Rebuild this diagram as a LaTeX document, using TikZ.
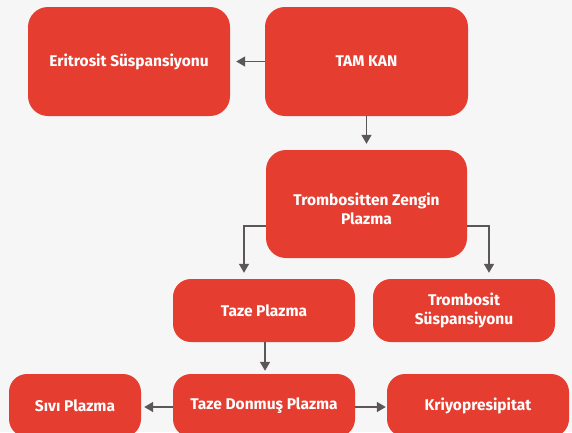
\documentclass[tikz,border=0pt]{standalone}
\usepackage{fontspec}
\setmainfont{Fira Sans}
\usetikzlibrary{arrows.meta}
\definecolor{boxred}{HTML}{E53D30}
\definecolor{bgcol}{HTML}{F6F6F6}
\definecolor{arrcol}{HTML}{5B5758}
\tikzset{
  rbox/.style={fill=boxred, draw=none, rounded corners=18pt, text=white,
    font=\fontsize{15.5}{19}\selectfont\bfseries, align=center, inner sep=0pt},
  btext/.style={text=white, font=\fontsize{15.5}{19}\selectfont\bfseries, align=center, inner sep=0pt},
  conn/.style={draw=arrcol, line width=1.5pt, -{Triangle[width=10pt,length=9pt]}}
}
\begin{document}
\begin{tikzpicture}[x=1pt,y=-1pt]
\fill[bgcol] (0,0) rectangle (572,432);
\useasboundingbox (0,0) rectangle (572,432);
\begin{scope}
\clip (0,0) rectangle (572,432);
\node[rbox, minimum width=202pt, minimum height=109pt, rounded corners=20pt] (er) at (129,61.5) {Eritrosit Süspansiyonu};
\node[rbox, minimum width=203pt, minimum height=109pt, rounded corners=20pt] (tk) at (366.5,61.5) {TAM KAN};
\node[rbox, minimum width=201pt, minimum height=108pt, rounded corners=20pt] (tzp) at (366.5,204) {};
\node[btext] (tzpt) at (366.5,209) {Trombositten Zengin\\Plazma};
\node[rbox, minimum width=182pt, minimum height=63pt] (tp) at (264,310.5) {Taze Plazma};
\node[rbox, minimum width=182pt, minimum height=63pt] (ts) at (464,310.5) {Trombosit\\Süspansiyonu};
\node[rbox, minimum width=132pt, minimum height=63pt] (sp) at (75,405.5) {Sıvı Plazma};
\node[rbox, minimum width=182pt, minimum height=63pt] (tdp) at (264,405.5) {Taze Donmuş Plazma};
\node[rbox, minimum width=182pt, minimum height=63pt] (kr) at (478,405.5) {Kriyopresipitat};
\end{scope}
\draw[conn, shorten >=6pt] (tk.west) -- (er.east);
\draw[conn, shorten >=6pt] (tk.south) -- (tzp.north);
\draw[conn, shorten >=6pt] ([yshift=-22pt]tzp.west) -| ([xshift=-20pt]tp.north);
\draw[conn, shorten >=6pt] ([yshift=-22pt]tzp.east) -| ([xshift=25pt]ts.north);
\draw[conn, shorten >=3pt] ([xshift=1pt]tp.south) -- ([xshift=1pt]tdp.north);
\draw[conn, shorten >=3pt] ([yshift=-1.5pt]tdp.west) -- ([yshift=-1.5pt]sp.east);
\draw[conn, shorten >=1pt] ([yshift=-1.5pt]tdp.east) -- ([yshift=-1.5pt]kr.west);
\end{tikzpicture}
\end{document}
